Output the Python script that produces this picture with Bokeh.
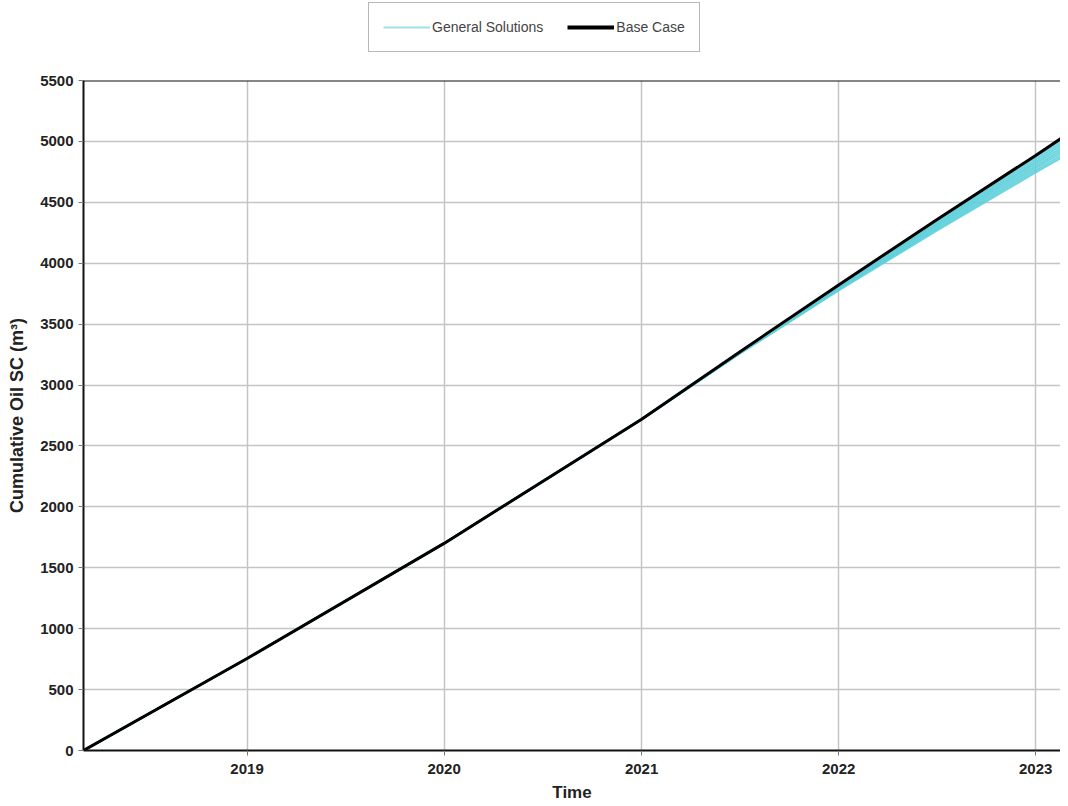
from datetime import datetime
from bokeh.plotting import figure
from bokeh.layouts import column
from bokeh.models import Legend, LegendItem, FixedTicker, DatetimeTickFormatter, Span, Range1d
from bokeh.embed import file_html
from bokeh.resources import INLINE

# ---- data ----
dates = ["2018-03-04", "2019-01-01", "2020-01-01", "2021-01-01", "2021-07-01",
         "2022-01-01", "2022-07-01", "2023-01-01", "2023-03-01"]
base_case = [0, 755, 1700, 2720, 3270, 3822, 4355, 4885, 5060]
general_solutions = [
    [0, 755, 1700, 2720, 3268, 3816, 4344, 4868, 5039],
    [0, 755, 1700, 2720, 3266, 3811, 4332, 4850, 5019],
    [0, 755, 1700, 2719, 3264, 3805, 4321, 4832, 4998],
    [0, 755, 1700, 2719, 3262, 3800, 4310, 4815, 4977],
    [0, 755, 1700, 2719, 3261, 3794, 4299, 4797, 4957],
    [0, 755, 1700, 2718, 3259, 3788, 4287, 4780, 4936],
    [0, 755, 1700, 2718, 3257, 3783, 4276, 4762, 4916],
    [0, 755, 1700, 2718, 3255, 3777, 4265, 4745, 4895],
]
year_ticks = ["2019-01-01", "2020-01-01", "2021-01-01", "2022-01-01", "2023-01-01"]
y_ticks = [0, 500, 1000, 1500, 2000, 2500, 3000, 3500, 4000, 4500, 5000, 5500]
legend_labels = ["General Solutions", "Base Case"]

def ms(s):
    return datetime.strptime(s, "%Y-%m-%d").timestamp() * 1000.0

xs = [ms(d) for d in dates]

FONT = "Liberation Sans"
GS_COLOR = "#5fd0db"

p = figure(width=1060, height=744, x_axis_type="datetime",
           x_range=Range1d(ms("2018-03-04"), ms("2023-02-16")),
           y_range=Range1d(0, 5500),
           output_backend="svg", toolbar_location=None,
           min_border_left=83, min_border_right=0, min_border_bottom=50, min_border_top=20)

for series in general_solutions:
    p.line(xs, series, line_color=GS_COLOR, line_width=2, line_alpha=0.9)
p.line(xs, base_case, line_color="#000000", line_width=3)

# axes
p.xaxis.ticker = FixedTicker(ticks=[ms(t) for t in year_ticks])
p.xaxis.formatter = DatetimeTickFormatter(years="%Y", months="%Y", days="%Y")
p.yaxis.ticker = FixedTicker(ticks=y_ticks)
for ax in (p.xaxis, p.yaxis):
    ax.axis_line_color = "#111111"
    ax.axis_line_width = 2
    ax.major_tick_line_color = "#777777"
    ax.major_tick_out = 5
    ax.major_tick_in = 0
    ax.minor_tick_line_color = None
    ax.major_label_text_font = FONT
    ax.major_label_text_font_style = "bold"
    ax.major_label_text_font_size = "15px"
    ax.major_label_text_color = "#222222"
    ax.axis_label_text_font = FONT
    ax.axis_label_text_font_style = "bold"
    ax.axis_label_text_color = "#222222"
p.xaxis.major_label_standoff = 8
p.xaxis.axis_label = "Time"
p.yaxis.axis_label = "Cumulative Oil SC (m³)"
p.xaxis.axis_label_text_font_size = "17px"
p.yaxis.axis_label_text_font_size = "18px"
p.xaxis.axis_label_standoff = 6
p.yaxis.axis_label_standoff = 10

p.grid.grid_line_color = "#c4c4c4"
p.grid.grid_line_width = 1.5
p.outline_line_color = None
p.add_layout(Span(location=5500, dimension="width", line_color="#111111", line_width=2))

# legend figure above the plot (its sample lines lie outside its visible range)
lg = figure(width=1060, height=60, output_backend="svg", toolbar_location=None,
            x_range=Range1d(0, 1), y_range=Range1d(0, 1),
            x_axis_location=None, y_axis_location=None,
            min_border=0, outline_line_color=None)
lg.grid.visible = False
r_gs = lg.line([-3, -2], [-3, -2], line_color="#9fe0e8", line_width=2)
r_bc = lg.line([-3, -2], [-3, -2], line_color="#000000", line_width=4)
legend = Legend(items=[LegendItem(label=legend_labels[0], renderers=[r_gs]),
                       LegendItem(label=legend_labels[1], renderers=[r_bc])],
                orientation="horizontal", location=(285, 8),
                label_text_font=FONT, label_text_font_size="14px", label_text_color="#444444",
                border_line_color="#707070", border_line_width=1.5,
                glyph_width=47, spacing=24, padding=14, margin=0,
                label_standoff=2)
lg.add_layout(legend)

layout = column(lg, p, spacing=0)
open("out.html", "w").write(file_html(layout, INLINE))
